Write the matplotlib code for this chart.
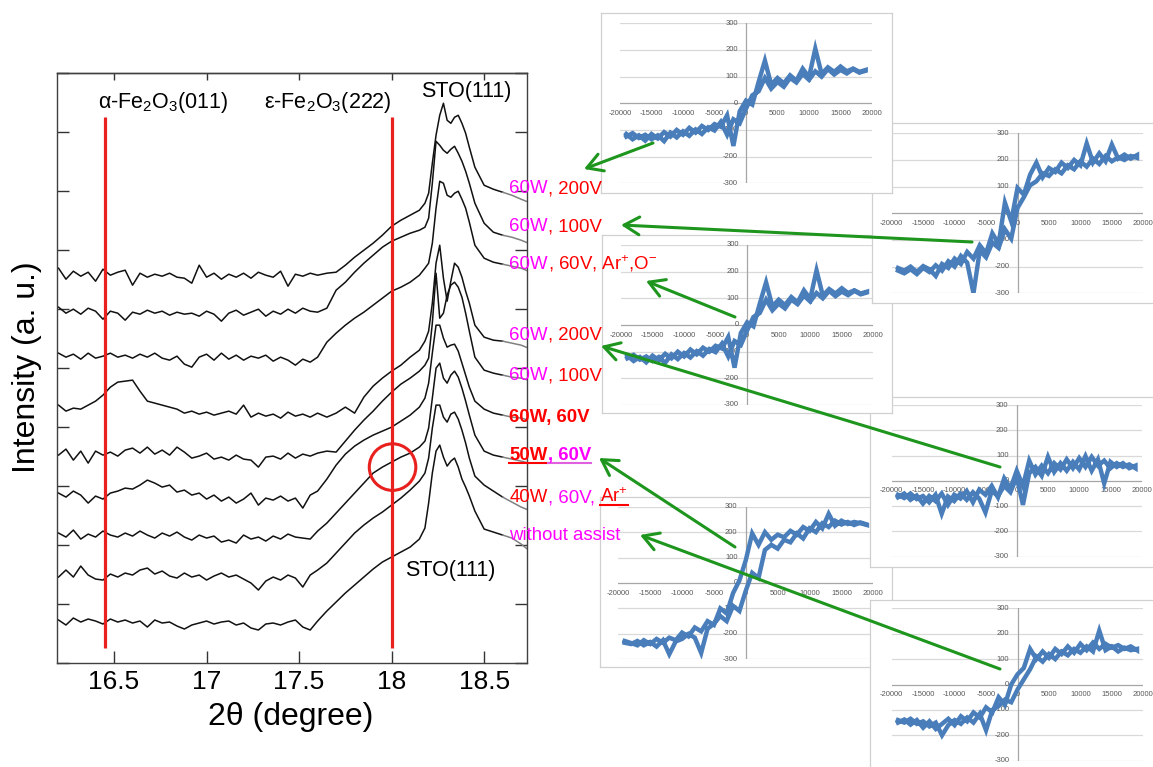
import numpy as np
import matplotlib
matplotlib.use('Agg')
import matplotlib.pyplot as plt
from matplotlib.patches import Ellipse, FancyArrowPatch
from matplotlib.lines import Line2D

plt.rcParams['font.family'] = ['Liberation Sans', 'DejaVu Sans']
plt.rcParams['mathtext.fontset'] = 'custom'
plt.rcParams['mathtext.rm'] = 'Liberation Sans'
plt.rcParams['mathtext.it'] = 'Liberation Sans:italic'
plt.rcParams['mathtext.bf'] = 'Liberation Sans:bold'

# ---------------- XRD data (2theta grid and offset intensities, a.u.) ----------------
two_theta = [16.20, 16.24, 16.28, 16.32, 16.36, 16.40, 16.44, 16.48, 16.52, 16.56,
             16.60, 16.64, 16.68, 16.72, 16.76, 16.80, 16.84, 16.88, 16.92, 16.96,
             17.00, 17.04, 17.08, 17.12, 17.16, 17.20, 17.24, 17.28, 17.32, 17.36,
             17.40, 17.44, 17.48, 17.52, 17.56,
             17.60, 17.65, 17.70, 17.75, 17.80, 17.85, 17.90, 17.95, 18.00, 18.05, 18.10, 18.15,
             18.18, 18.20, 18.22, 18.24, 18.26, 18.28, 18.30, 18.32, 18.34, 18.36, 18.38, 18.40, 18.42,
             18.45, 18.50, 18.55, 18.60, 18.65, 18.70, 18.74]

xrd_60W_200V_a = [395, 384, 392, 387, 391, 382, 394, 388, 391, 393, 378, 390, 386, 389, 387, 390, 386, 385, 380, 398,
                  386, 390, 384, 389, 386, 390, 385, 391, 388, 386, 392, 377, 389, 387, 390,
                  388, 390, 391, 398, 406, 413, 420, 428, 437, 443, 448, 453,
                  460, 470, 500, 528, 548, 560, 543, 540, 546, 548, 540, 530, 516,
                  496, 478, 474, 471, 468, 464, 461]
xrd_60W_100V_a = [356, 350, 354, 349, 355, 352, 344, 352, 350, 343, 351, 349, 353, 350, 352, 348, 351, 349, 350, 347,
                  352, 349, 342, 350, 353, 348, 351, 354, 347, 352, 349, 354, 350, 355, 352,
                  351, 355, 373, 381, 391, 400, 408, 416, 422, 426, 430, 433,
                  436, 445, 480, 522, 518, 513, 510, 514, 517, 510, 502, 492, 480,
                  460, 440, 431, 428, 426, 423, 420]
xrd_60W_60V_ArO = [310, 306, 309, 304, 310, 305, 307, 310, 306, 308, 305, 309, 306, 310, 305, 303, 307, 299, 296, 306,
                   309, 303, 310, 304, 308, 303, 307, 305, 308, 302, 306, 303, 298, 304, 301,
                   306, 321, 330, 338, 345, 351, 358, 365, 372, 376, 381, 388,
                   395, 400, 420, 455, 482, 480, 468, 466, 470, 472, 464, 455, 441,
                   418, 405, 401, 399, 397, 395, 392]
xrd_60W_200V_b = [258, 252, 255, 254, 258, 262, 268, 276, 281, 282, 283, 272, 262, 260, 258, 256, 254, 250, 252, 249,
                  251, 248, 250, 252, 249, 258, 246, 250, 247, 249, 245, 251, 247, 249, 246,
                  250, 246, 250, 256, 250, 266, 277, 285, 292, 298, 306, 313,
                  322, 332, 360, 400, 418, 385, 362, 382, 400, 396, 386, 372, 360,
                  338, 326, 323, 322, 320, 318, 315]
xrd_60W_100V_b = [208, 214, 203, 212, 200, 212, 208, 211, 207, 213, 215, 210, 216, 209, 213, 208, 216, 211, 205, 207,
                  210, 204, 206, 203, 208, 204, 203, 196, 206, 207, 204, 210, 205, 209, 207,
                  210, 212, 211, 222, 233, 243, 252, 262, 271, 279, 285, 292,
                  298, 305, 340, 390, 345, 350, 368, 378, 381, 376, 366, 350, 332,
                  306, 293, 290, 288, 286, 285, 283]
xrd_60W_60V = [170, 166, 172, 168, 160, 167, 164, 170, 172, 175, 174, 178, 183, 180, 176, 178, 171, 173, 168, 170,
               164, 168, 162, 166, 160, 164, 170, 158, 165, 163, 167, 162, 165, 155, 168,
               172, 184, 198, 209, 217, 223, 228, 232, 236, 242, 248, 256,
               265, 280, 310, 338, 338, 325, 316, 318, 319, 312, 300, 288, 276,
               262, 254, 250, 248, 246, 245, 243]
xrd_50W_60V = [130, 126, 133, 124, 129, 126, 132, 128, 126, 130, 127, 132, 128, 125, 130, 127, 131, 126, 123, 128,
               125, 127, 121, 123, 120, 128, 124, 126, 122, 127, 124, 129, 126, 125, 124,
               132, 140, 150, 160, 170, 180, 190, 196, 201, 206, 210, 216,
               222, 235, 265, 295, 300, 285, 280, 288, 292, 286, 275, 262, 248,
               228, 212, 208, 206, 204, 202, 200]
xrd_40W_60V_Ar = [86, 93, 86, 97, 88, 84, 83, 89, 86, 90, 88, 93, 95, 89, 92, 87, 85, 90, 86, 88,
                  83, 87, 90, 86, 88, 84, 80, 73, 82, 86, 83, 88, 85, 76, 88,
                  93, 100, 110, 120, 130, 138, 145, 151, 158, 165, 173, 182,
                  190, 205, 235, 258, 258, 246, 241, 249, 251, 244, 233, 220, 205,
                  187, 178, 172, 166, 161, 156, 153]
xrd_no_assist = [43, 38, 45, 41, 44, 42, 39, 44, 41, 43, 40, 42, 36, 43, 40, 41, 37, 34, 38, 40,
                 42, 39, 41, 42, 38, 40, 35, 33, 39, 40, 38, 41, 43, 36, 33,
                 42, 52, 61, 70, 78, 86, 94, 101, 106, 111, 116, 124,
                 135, 160, 190, 212, 218, 206, 197, 202, 205, 196, 184, 176, 167,
                 152, 134, 131, 128, 125, 119, 113]

xrd_curves = [xrd_60W_200V_a, xrd_60W_100V_a, xrd_60W_60V_ArO, xrd_60W_200V_b, xrd_60W_100V_b,
              xrd_60W_60V, xrd_50W_60V, xrd_40W_60V_Ar, xrd_no_assist]

x_ticks = [16.5, 17, 17.5, 18, 18.5]
x_tick_labels = ['16.5', '17', '17.5', '18', '18.5']
ref_lines = [16.45, 18.0]

# sample labels (text pieces: text, colour key, underline)
sample_labels = [
    [('60W', 'm', False), (', 200V', 'r', False)],
    [('60W', 'm', False), (', 100V', 'r', False)],
    [('60W', 'm', False), (', 60V, Ar$^{+}$,O$^{-}$', 'r', False)],
    [('60W', 'm', False), (', 200V', 'r', False)],
    [('60W', 'm', False), (', 100V', 'r', False)],
    [('60W, 60V', 'r', False)],
    [('50W', 'r', True), (', 60V', 'm', True)],
    [('40W', 'r', False), (', 60V,', 'm', False), (' Ar$^{+}$', 'r', True)],
    [('without assist', 'm', False)],
]
label_bold = [False, False, False, False, False, True, True, False, False]

# ---------------- M-H loops (field Oe, moment) ----------------
field = [-19000, -18000, -17000, -16000, -15000, -14000, -13000, -12000, -11000, -10000,
         -9000, -8000, -7000, -6000, -5000, -4000, -3000, -2000, -1000, 0,
         1000, 2000, 3000, 4000, 5000, 6000, 7000, 8000, 9000, 10000,
         11000, 12000, 13000, 14000, 15000, 16000, 17000, 18000, 19000]

loopA_up = [-125, -112, -130, -118, -135, -120, -142, -110, -128, -105,
            -122, -98, -115, -90, -102, -70, -118, -60, -75, -20,
            30, 45, 95, 55, 80, 62, 95, 78, 110, 88,
            120, 100, 128, 108, 125, 112, 128, 115, 122]
loopA_down = [-115, -135, -120, -140, -115, -132, -108, -125, -100, -118,
              -92, -110, -85, -100, -78, -88, -45, -160, -30, 10,
              -5, 80, 160, 70, 95, 75, 105, 85, 130, 98,
              205, 110, 135, 118, 138, 120, 130, 118, 125]
loopB_up = [-215, -225, -210, -228, -205, -220, -195, -215, -180, -200,
            -160, -185, -300, -140, -165, -110, -130, -60, -95, 20,
            60, 105, 120, 150, 140, 165, 150, 180, 165, 195,
            175, 205, 185, 215, 195, 210, 200, 215, 208]
loopB_down = [-205, -215, -200, -220, -198, -210, -235, -190, -205, -170,
              -190, -145, -170, -120, -150, -75, -115, 40, -30, 95,
              70, 145, 190, 135, 170, 155, 190, 170, 200, 180,
              262, 190, 225, 195, 258, 205, 220, 205, 218]
loopD_up = [-55, -68, -50, -72, -60, -85, -55, -130, -62, -80,
            -50, -75, -45, -70, -125, -40, -60, -20, -45, 15,
            -95, 30, 55, 20, 95, 35, 70, 40, 75, 45,
            98, 40, 85, -10, 75, 55, 70, 50, 60]
loopD_down = [-65, -50, -75, -58, -90, -60, -80, -50, -95, -55,
              -70, -40, -85, -35, -55, -20, -65, 10, -30, 40,
              -20, 80, 25, 60, 30, 70, 45, 85, 50, 90,
              55, 95, 60, 80, 50, 70, 55, 65, 50]
loopE_up = [-235, -240, -228, -245, -232, -250, -225, -280, -230, -220,
            -200, -215, -275, -180, -160, -130, -150, -90, -110, -30,
            40, 20, 130, 150, 135, 170, 160, 195, 175, 215,
            200, 235, 220, 245, 230, 240, 228, 238, 230]
loopE_down = [-228, -236, -245, -225, -240, -220, -235, -215, -225, -195,
              -210, -175, -190, -150, -165, -100, -120, -40, 10, 90,
              195, 150, 200, 170, 190, 180, 205, 190, 220, 205,
              240, 215, 272, 225, 245, 232, 240, 235, 228]
loopF_up = [-140, -150, -135, -155, -145, -165, -150, -200, -160, -140,
            -155, -130, -150, -115, -180, -100, -85, -60, -70, -20,
            20, 60, 110, 90, 120, 100, 130, 115, 140, 125,
            150, 130, 212, 135, 150, 130, 145, 135, 140]
loopF_down = [-150, -138, -158, -140, -170, -145, -175, -155, -135, -160,
              -125, -145, -110, -130, -90, -110, -50, -80, 0, 40,
              65, 140, 100, 130, 105, 140, 120, 150, 125, 160,
              135, 165, 140, 160, 145, 155, 140, 150, 135]

inset_x_ticks = [-20000, -15000, -10000, -5000, 0, 5000, 10000, 15000, 20000]
inset_y_ticks = [-300, -200, -100, 0, 100, 200, 300]

# ---------------- figure ----------------
W, H = 1153, 767
fig = plt.figure(figsize=(W / 100, H / 100), dpi=100)


def rect(x0, y0, x1, y1):
    return [x0 / W, 1 - y1 / H, (x1 - x0) / W, (y1 - y0) / H]


def fp(x, y):
    return (x / W, 1 - y / H)


MAG = '#ff00ff'
RED = '#ff0000'
GREEN = '#1e961e'
cmap = {'m': MAG, 'r': RED}

ax = fig.add_axes(rect(56.7, 73.3, 526.7, 663))
ax.set_xlim(16.19, 18.73)
ax.set_ylim(0, 590)
xs = np.array(two_theta)
for ys in xrd_curves:
    ys = np.array(ys)
    m1 = xs <= 18.60
    m2 = xs >= 18.60
    ax.plot(xs[m1], ys[m1], color='#111111', lw=1.1, zorder=2)
    ax.plot(xs[m2], ys[m2], color='#808080', lw=1.1, zorder=2)
ax.vlines(ref_lines, 15, 546, color='#e8201e', lw=2.3, zorder=3)
ax.add_patch(Ellipse((18.005, 196), 0.2515, 46.6, fill=False, ec='#e8201e', lw=2.2, zorder=4))

ax.set_xticks(x_ticks)
ax.set_xticklabels(x_tick_labels)
ax.set_yticks(np.arange(0, 591, 59))
ax.tick_params(axis='both', direction='in', length=8.5, width=1.0, color='#333333',
               labelsize=19, pad=5, left=True, right=True, labelleft=False)
ax.tick_params(axis='x', top=False)
sec = ax.secondary_xaxis('top')
sec.set_xticks(x_ticks)
sec.tick_params(direction='in', length=5, width=1.0, color='#333333', labeltop=False)
for s in list(ax.spines.values()) + list(sec.spines.values()):
    s.set_color('#404040')
    s.set_linewidth(1.0)

fig.text(*fp(291, 717), '2θ (degree)', fontsize=23, ha='center', va='center')
fig.text(*fp(27, 367), 'Intensity (a. u.)', fontsize=23, ha='center', va='center', rotation=90)

fig.text(*fp(163.5, 108), 'α-Fe$_2$O$_3$(011)', fontsize=15.5, ha='center', va='baseline', zorder=30)
fig.text(*fp(328, 108), 'ε-Fe$_2$O$_3$(222)', fontsize=15.5, ha='center', va='baseline', zorder=30)
fig.text(*fp(466, 96.7), 'STO(111)', fontsize=15.5, ha='center', va='baseline', zorder=30)
fig.text(*fp(450, 576), 'STO(111)', fontsize=15.5, ha='center', va='baseline', zorder=30)


# ---------------- insets ----------------
def draw_inset(box, area, up, down, z):
    axb = fig.add_axes(rect(*box))
    axb.set_zorder(z)
    axb.set_xticks([])
    axb.set_yticks([])
    axb.set_facecolor('white')
    for s in axb.spines.values():
        s.set_color('#d0d0d0')
        s.set_linewidth(0.9)
    axi = fig.add_axes(rect(*area))
    axi.set_zorder(z + 1)
    axi.set_xlim(-20000, 20000)
    axi.set_ylim(-300, 300)
    axi.axis('off')
    for v in inset_y_ticks:
        if v != 0:
            axi.axhline(v, color='#d9d9d9', lw=0.9, zorder=1)
        axi.text(-1300, v, str(v), ha='right', va='center', fontsize=5.5, color='#595959', zorder=2)
    axi.axhline(0, color='#a6a6a6', lw=0.9, zorder=1)
    axi.axvline(0, color='#a6a6a6', lw=0.9, zorder=1)
    for v in inset_x_ticks:
        axi.text(v, -40, str(v), ha='center', va='center', fontsize=5.5, color='#595959', zorder=2)
    axi.plot(field + field[::-1], up + down[::-1], color='#4a7ebb', lw=3.2,
             solid_joinstyle='miter', zorder=3)


draw_inset((600, 497, 891.7, 667), (618.3, 506.7, 873.3, 659.3), loopE_up, loopE_down, 2)
draw_inset((870, 600, 1160, 780), (891.7, 608.3, 1143.3, 760.7), loopF_up, loopF_down, 4)
draw_inset((870, 396.7, 1160, 566.7), (891.7, 405, 1141.7, 556.7), loopD_up, loopD_down, 6)
draw_inset((601.7, 235, 891.7, 413.3), (621, 245, 873.3, 405), loopA_up, loopA_down, 8)
draw_inset((871.7, 123.3, 1160, 303), (891.7, 133.3, 1143.3, 293.3), loopB_up, loopB_down, 10)
draw_inset((601, 13.3, 892, 193), (620, 23.3, 872, 183.3), loopA_up, loopA_down, 12)

# ---------------- sample labels ----------------
renderer = fig.canvas.get_renderer()
baselines = [193, 231, 269, 340, 380, 422, 460, 502, 540]
for b, pieces, bold in zip(baselines, sample_labels, label_bold):
    x = 509.3
    for txt, ck, ul in pieces:
        t = fig.text(x / W, 1 - b / H, txt, color=cmap[ck], fontsize=13.4,
                     fontweight='bold' if bold else 'normal', ha='left', va='baseline', zorder=30)
        bb = t.get_window_extent(renderer)
        if ul:
            ux0 = bb.x0
            if txt.startswith(' '):
                tmp = fig.text(0, 0, txt.lstrip(), fontsize=13.4,
                               fontweight='bold' if bold else 'normal')
                ux0 = bb.x1 - tmp.get_window_extent(renderer).width
                tmp.remove()
            col = cmap[ck] if ck == 'r' else '#e060e0'
            fig.add_artist(Line2D([ux0 / W, bb.x1 / W], [1 - (b + 2.8) / H] * 2,
                                  transform=fig.transFigure, color=col, lw=1.5, zorder=30))
        x = bb.x1

# ---------------- arrows ----------------
arrows = [((653, 143), (584, 169)), ((972, 242), (621, 225)), ((735, 317), (646, 281)),
          ((1000, 467), (601, 346)), ((735, 547), (599, 458)), ((1000, 669), (640, 535))]
for tail, head in arrows:
    fa = FancyArrowPatch(fp(*tail), fp(*head), transform=fig.transFigure,
                         arrowstyle='->,head_length=0.55,head_width=0.32', mutation_scale=20,
                         color=GREEN, lw=2.2, shrinkA=0, shrinkB=0, zorder=40)
    fig.add_artist(fa)

fig.savefig('out.png', dpi=100)
